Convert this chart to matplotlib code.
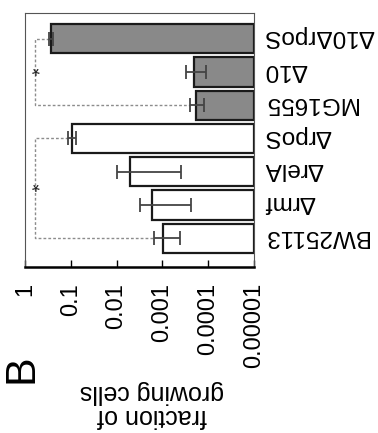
import matplotlib
matplotlib.use("Agg")
import matplotlib.pyplot as plt
import matplotlib.transforms as mtransforms
import numpy as np

plt.rcParams['font.family'] = ['Liberation Sans', 'DejaVu Sans']

# ---- data ----
strains = ["BW25113", "Δrmf", "ΔrelA", "ΔrpoS", "MG1655", "Δ10", "Δ10ΔrpoS"]
fraction = [9.8e-4, 1.66e-3, 5.0e-3, 0.095, 1.88e-4, 2.05e-4, 0.272]
fraction_err = [5.6e-4, 1.42e-3, 4.6e-3, 0.019, 0.66e-4, 0.95e-4, 0.022]
is_k12_mg = [False, False, False, False, True, True, True]
tick_values = [1, 0.1, 0.01, 0.001, 0.0001, 0.00001]
tick_labels = ["1", "0.1", "0.01", "0.001", "0.0001", "0.00001"]
# significance brackets: (row_a, row_b)
brackets = [(6, 4), (3, 0)]

BASE = 1e-5
BRACKET_X = 0.6

fig = plt.figure(figsize=(3.78, 4.33), dpi=100)
ax = fig.add_axes([25/378, 1-266.5/433, 229/378, (266.5-12.7)/433])

y = np.arange(len(strains))
vals = np.array(fraction)
errs = np.array(fraction_err)
colors = ['#898989' if g else 'white' for g in is_k12_mg]

ax.set_xscale('log')
ax.barh(y, vals - BASE, left=BASE, height=0.88, color=colors,
        edgecolor='#1a1a1a', linewidth=1.6, zorder=2)
ax.errorbar(vals, y, xerr=errs, fmt='none', ecolor='#444444',
            elinewidth=1.3, capsize=5, capthick=1.3, zorder=3)

# significance brackets
STAR_FS = 15
for a, b in brackets:
    ax.plot([vals[a] + errs[a], BRACKET_X, BRACKET_X, vals[b] + errs[b]],
            [a, a, b, b], color='#8c8c8c', lw=1.0, ls=(0, (2, 1.5)), zorder=1)
    tr = mtransforms.offset_copy(ax.transData, fig=fig, y=0.32*STAR_FS, units='points')
    ax.text(BRACKET_X, (a + b) / 2, "*", rotation=180, ha='center', va='center',
            fontsize=STAR_FS, color='#222222', transform=tr, zorder=4)

ax.set_xlim(1, 1e-5)
ax.set_ylim(-0.854, 6.785)

ax.set_xticks(tick_values)
ax.set_xticklabels(tick_labels, rotation=90, fontsize=17)
ax.tick_params(axis='x', which='major', direction='in', length=5, width=1,
               color='black', pad=12)
ax.tick_params(axis='x', which='minor', direction='in', length=3, width=0.8,
               color='black')

ax.set_yticks(y)
ax.set_yticklabels(strains, rotation=180, fontsize=17.5,
                   rotation_mode='anchor', ha='right', va='center_baseline')
ax.yaxis.tick_right()
ax.tick_params(axis='y', length=0, pad=7)

for s in ['left', 'top', 'right']:
    ax.spines[s].set_color('#555555')
    ax.spines[s].set_linewidth(0.8)
ax.spines['bottom'].set_color('black')
ax.spines['bottom'].set_linewidth(1.8)

fig.text(152/378, 1-404/433, "fraction of\ngrowing cells", rotation=180,
         ha='center', va='center', fontsize=18, linespacing=0.95)
fig.text(22/378, 1-369/433, "B", rotation=90, ha='center', va='center',
         fontsize=31)

fig.savefig("out.png", dpi=100)
